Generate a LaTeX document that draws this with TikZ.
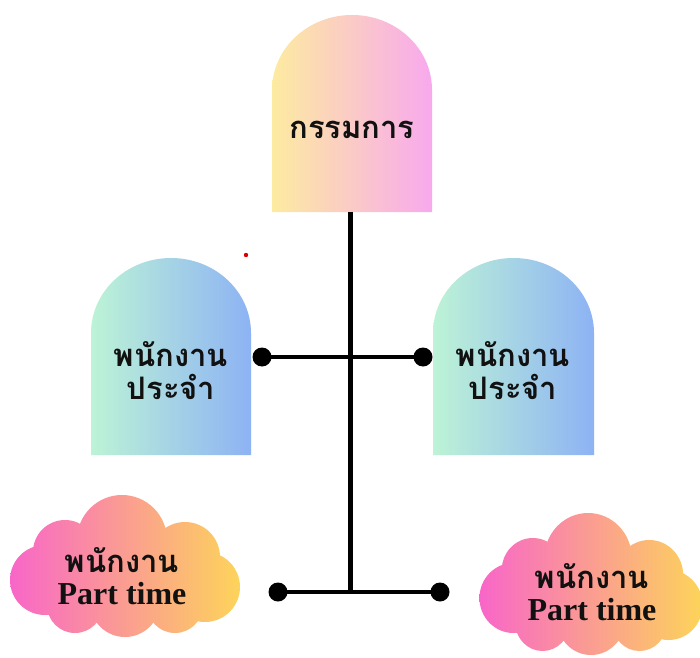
\documentclass[tikz,border=0pt]{standalone}
\usepackage{fontspec}
\setmainfont{Liberation Serif}
\newfontfamily\thaifont[Script=Thai]{Loma}
\definecolor{topL}{HTML}{FDEBA0}
\definecolor{topR}{HTML}{F8A9EE}
\definecolor{midL}{HTML}{BDF3D6}
\definecolor{midR}{HTML}{8DB3F4}
\definecolor{clL}{HTML}{F866C8}
\definecolor{clR}{HTML}{FDD45A}
\definecolor{ink}{HTML}{111111}
\tikzset{
  thaitxt/.style={font=\thaifont\bfseries\fontsize{31}{33}\selectfont, text=ink, align=center, inner sep=0pt},
  pttxt/.style={font=\bfseries\fontsize{32}{32}\selectfont, text=ink, align=center, inner sep=0pt},
  dotnode/.style={circle, fill=black, inner sep=0pt, minimum size=19pt},
  bar/.style={line width=4pt, black}
}
\newcommand{\cloudpath}{%
  (-3,27) circle (45) (-60,15) circle (32) (-80,-13) circle (35)
  (60,10) circle (35) (80,-20) circle (35) (0,-35) circle (35)
  (-50,-38) circle (28) (50,-38) circle (28) (0,-5) ellipse (85 and 45)}
\newcommand{\thaiw}{{\thaifont\fontsize{31}{32}\selectfont พนักงาน}}
\begin{document}
\begin{tikzpicture}[x=1pt,y=1pt]
\useasboundingbox (0,0) rectangle (700,657);
\fill[white] (0,0) rectangle (700,657);
% arches
\shade[left color=topL, right color=topR] (272,445) -- (272,567) arc[start angle=180,end angle=0,x radius=80,y radius=75] -- (432,445) -- cycle;
\shade[left color=midL, right color=midR] (91,202) -- (91,324) arc[start angle=180,end angle=0,x radius=80,y radius=75] -- (251,202) -- cycle;
\shade[left color=midL, right color=midR] (433,202) -- (433,324) arc[start angle=180,end angle=0,x radius=80.5,y radius=75] -- (594,202) -- cycle;
% clouds
\begin{scope}[shift={(125,90)}]
  \shade[left color=clL, right color=clR, nonzero rule] \cloudpath;
\end{scope}
\begin{scope}[shift={(591,72)}, xscale=0.97]
  \shade[left color=clL, right color=clR, nonzero rule] \cloudpath;
\end{scope}
% texts
\node[thaitxt] (top) at (352,527) {กรรมการ};
\node[thaitxt] (empL) at (171,286) {พนักงาน\\ประจำ};
\node[thaitxt] (empR) at (513,286) {พนักงาน\\ประจำ};
\node[pttxt] (ptL) at (122,81) {\thaiw\\Part time};
\node[pttxt] (ptR) at (592,65) {\thaiw\\Part time};
% connectors
\coordinate (topB) at (350,445);
\coordinate (botC) at (350,63);
\node[dotnode] (dML) at (262,300) {};
\node[dotnode] (dMR) at (423,300) {};
\node[dotnode] (dBL) at (278,65) {};
\node[dotnode] (dBR) at (440,65) {};
\draw[bar] (dML.center) -- (dMR.center);
\draw[bar] (dBL.center) -- (dBR.center);
\draw[line width=5pt, black] (topB) -- (botC);
% stray red dot
\fill[red!85!black] (246,402) circle (2.2);
\end{tikzpicture}
\end{document}
